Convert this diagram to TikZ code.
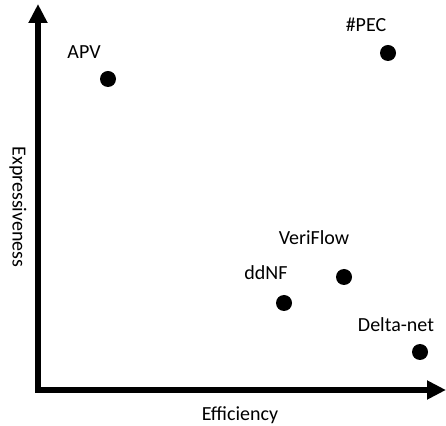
\documentclass[tikz,border=0pt]{standalone}
\usepackage{fontspec}
\setmainfont{Carlito}
\usetikzlibrary{arrows.meta}
\begin{document}
\begin{tikzpicture}[x=1pt,y=1pt,
  lbl/.style={font=\fontsize{20}{24}\selectfont, inner sep=0pt},
  dot/.style={circle, fill=black, minimum size=16pt, inner sep=0pt},
  axis/.style={line width=6pt, line join=miter, {Triangle[length=19pt,width=18pt]}-{Triangle[length=19pt,width=18pt]}}]
\useasboundingbox (0,0) rectangle (446,425);
\coordinate (top) at (38,421);
\coordinate (origin) at (38,35);
\coordinate (right) at (446,35);
\draw[axis] (top) -- (origin) -- (right);
\node[lbl, rotate=-90] (ylab) at (18,218) {Expressiveness};
\node[lbl] (xlab) at (240,10) {Efficiency};
\node[dot] (apv) at (108,346) {};
\node[lbl] (apvl) at (84,373) {APV};
\node[dot] (pec) at (388,372) {};
\node[lbl] (pecl) at (366,400) {\#PEC};
\node[dot] (vf) at (344,148) {};
\node[lbl] (vfl) at (314,187) {VeriFlow};
\node[dot] (dd) at (284,122) {};
\node[lbl] (ddl) at (266,152) {ddNF};
\node[dot] (dn) at (420,73) {};
\node[lbl] (dnl) at (396,100) {Delta-net};
\end{tikzpicture}
\end{document}
